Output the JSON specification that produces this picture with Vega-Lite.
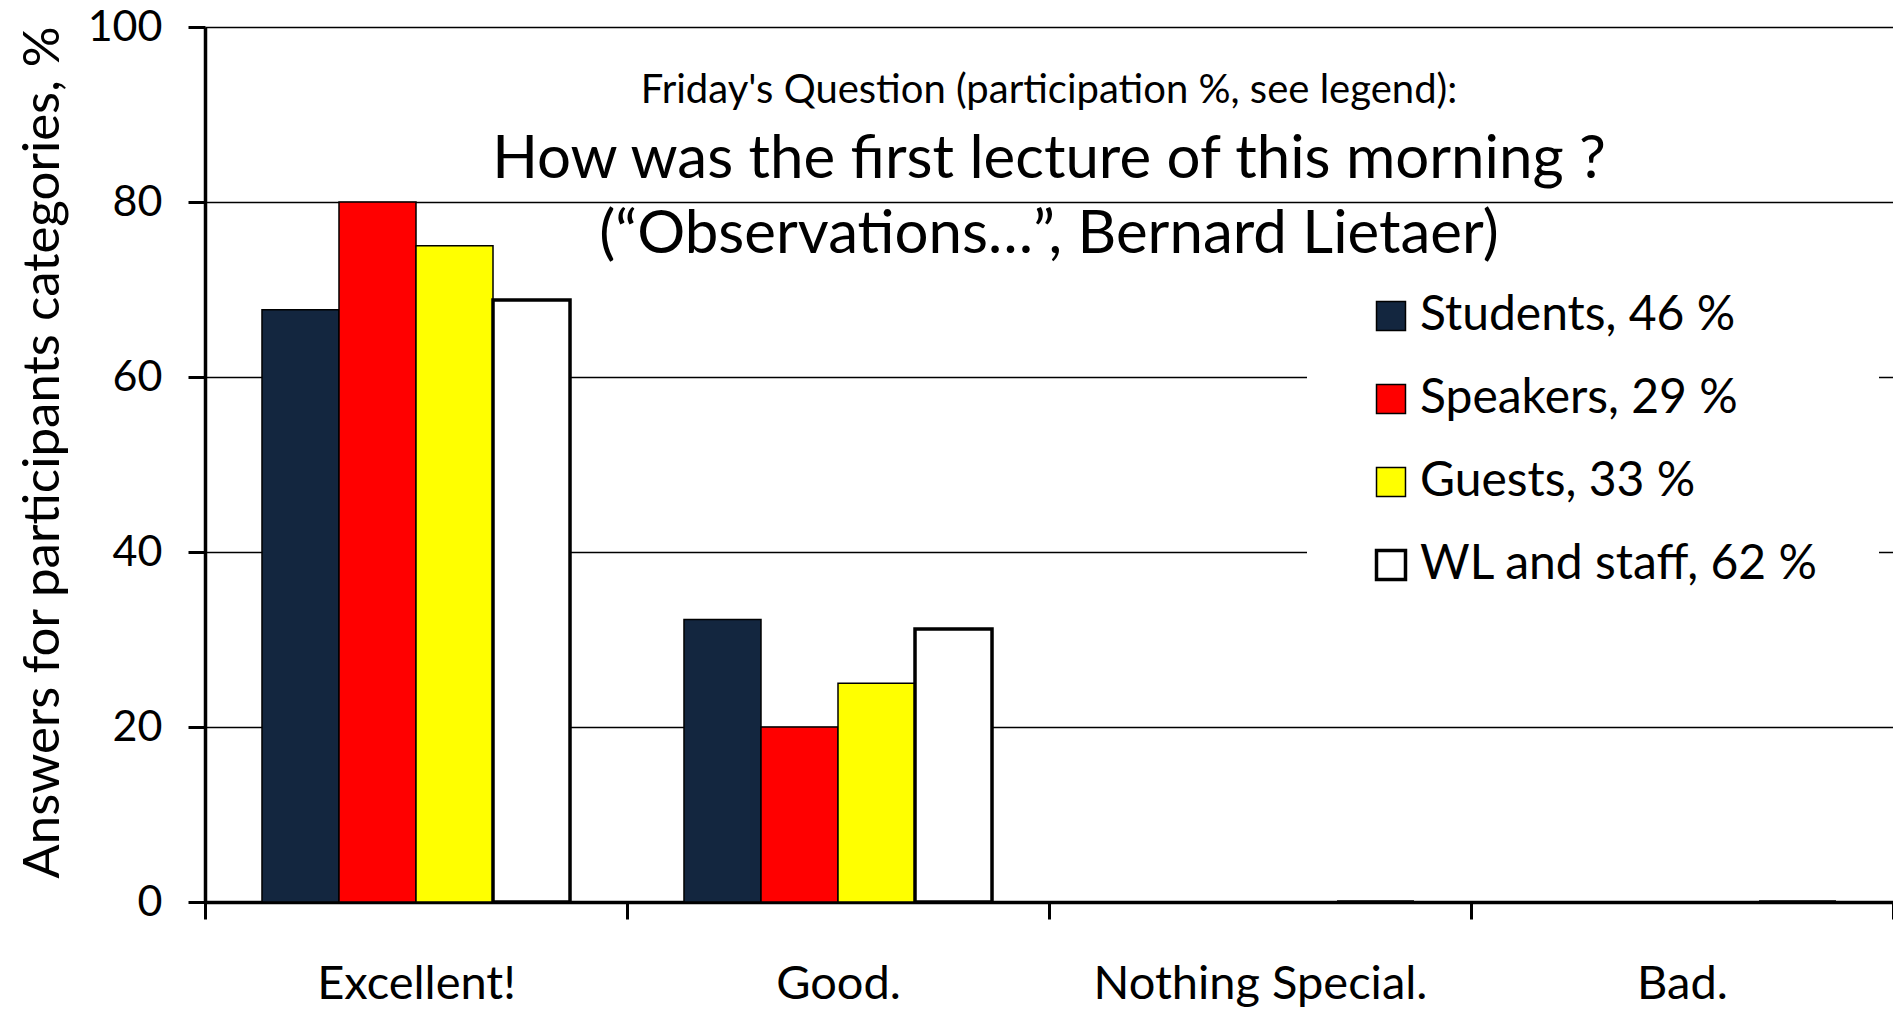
{
  "$schema": "https://vega.github.io/schema/vega-lite/v6.json",
  "width": 1688,
  "height": 875,
  "autosize": {"type": "none"},
  "padding": {"left": 205, "top": 27, "right": 0, "bottom": 112},
  "background": "white",
  "config": {"font": "Lato", "view": {"stroke": null}},
  "title": {
    "text": "Friday's Question (participation %, see legend):",
    "subtitle": ["How was the first lecture of this morning ?", "(“Observations…”, Bernard Lietaer)"],
    "anchor": "middle",
    "frame": "group",
    "orient": "top",
    "offset": -259,
    "fontSize": 40,
    "fontWeight": "normal",
    "color": "black",
    "subtitleFontSize": 60,
    "subtitleColor": "black",
    "subtitleLineHeight": 75,
    "subtitlePadding": 20
  },
  "data": {
    "values": [
      {"rating": "Excellent!", "group": "Students, 46 %", "pct": 67.7},
      {"rating": "Excellent!", "group": "Speakers, 29 %", "pct": 80},
      {"rating": "Excellent!", "group": "Guests, 33 %", "pct": 75},
      {"rating": "Excellent!", "group": "WL and staff, 62 %", "pct": 68.8},
      {"rating": "Good.", "group": "Students, 46 %", "pct": 32.3},
      {"rating": "Good.", "group": "Speakers, 29 %", "pct": 20},
      {"rating": "Good.", "group": "Guests, 33 %", "pct": 25},
      {"rating": "Good.", "group": "WL and staff, 62 %", "pct": 31.2},
      {"rating": "Nothing Special.", "group": "Students, 46 %", "pct": 0},
      {"rating": "Nothing Special.", "group": "Speakers, 29 %", "pct": 0},
      {"rating": "Nothing Special.", "group": "Guests, 33 %", "pct": 0},
      {"rating": "Nothing Special.", "group": "WL and staff, 62 %", "pct": 0},
      {"rating": "Bad.", "group": "Students, 46 %", "pct": 0},
      {"rating": "Bad.", "group": "Speakers, 29 %", "pct": 0},
      {"rating": "Bad.", "group": "Guests, 33 %", "pct": 0},
      {"rating": "Bad.", "group": "WL and staff, 62 %", "pct": 0}
    ]
  },
  "mark": {"type": "bar", "stroke": "black"},
  "encoding": {
    "x": {
      "field": "rating",
      "type": "nominal",
      "sort": ["Excellent!", "Good.", "Nothing Special.", "Bad."],
      "scale": {"paddingInner": 0, "paddingOuter": 0},
      "axis": {
        "title": null,
        "labelAngle": 0,
        "tickBand": "extent",
        "tickSize": 17,
        "tickWidth": 3,
        "tickColor": "black",
        "domainColor": "black",
        "domainWidth": 3.5,
        "labelFontSize": 47,
        "labelColor": "black",
        "labelPadding": 42,
        "labelLimit": 600
      }
    },
    "xOffset": {
      "field": "group",
      "type": "nominal",
      "sort": ["Students, 46 %", "Speakers, 29 %", "Guests, 33 %", "WL and staff, 62 %"],
      "scale": {"paddingOuter": 0.74, "paddingInner": 0}
    },
    "y": {
      "field": "pct",
      "type": "quantitative",
      "scale": {"domain": [0, 100]},
      "axis": {
        "values": [0, 20, 40, 60, 80, 100],
        "grid": true,
        "gridColor": "black",
        "gridWidth": 1.5,
        "gridOpacity": 1,
        "domainColor": "black",
        "domainWidth": 3.5,
        "tickColor": "black",
        "tickWidth": 3,
        "tickSize": 17,
        "labelFontSize": 43,
        "labelColor": "black",
        "labelPadding": 26,
        "title": "Answers for participants categories, %",
        "titleFontSize": 51,
        "titleFontWeight": "normal",
        "titleColor": "black",
        "titlePadding": 18,
        "titleY": 425
      }
    },
    "fill": {
      "field": "group",
      "type": "nominal",
      "sort": ["Students, 46 %", "Speakers, 29 %", "Guests, 33 %", "WL and staff, 62 %"],
      "scale": {
        "domain": ["Students, 46 %", "Speakers, 29 %", "Guests, 33 %", "WL and staff, 62 %"],
        "range": ["#13263f", "#ff0000", "#ffff00", "#ffffff"]
      },
      "legend": {
        "title": null,
        "orient": "none",
        "legendX": 1102,
        "legendY": 205,
        "padding": 60,
        "fillColor": "white",
        "symbolType": "square",
        "symbolSize": 840,
        "symbolStrokeColor": "black",
        "symbolStrokeWidth": 1.5,
        "symbolOpacity": 1,
        "labelFontSize": 48,
        "labelColor": "black",
        "labelLimit": 600,
        "labelOffset": 5,
        "rowPadding": 35,
        "encode": {
          "symbols": {
            "update": {
              "strokeWidth": {"signal": "datum.value === 'WL and staff, 62 %' ? 3.5 : 1.5"}
            }
          }
        }
      }
    },
    "strokeWidth": {
      "condition": {"test": "datum.group === 'WL and staff, 62 %'", "value": 3.5},
      "value": 1.5
    }
  }
}
